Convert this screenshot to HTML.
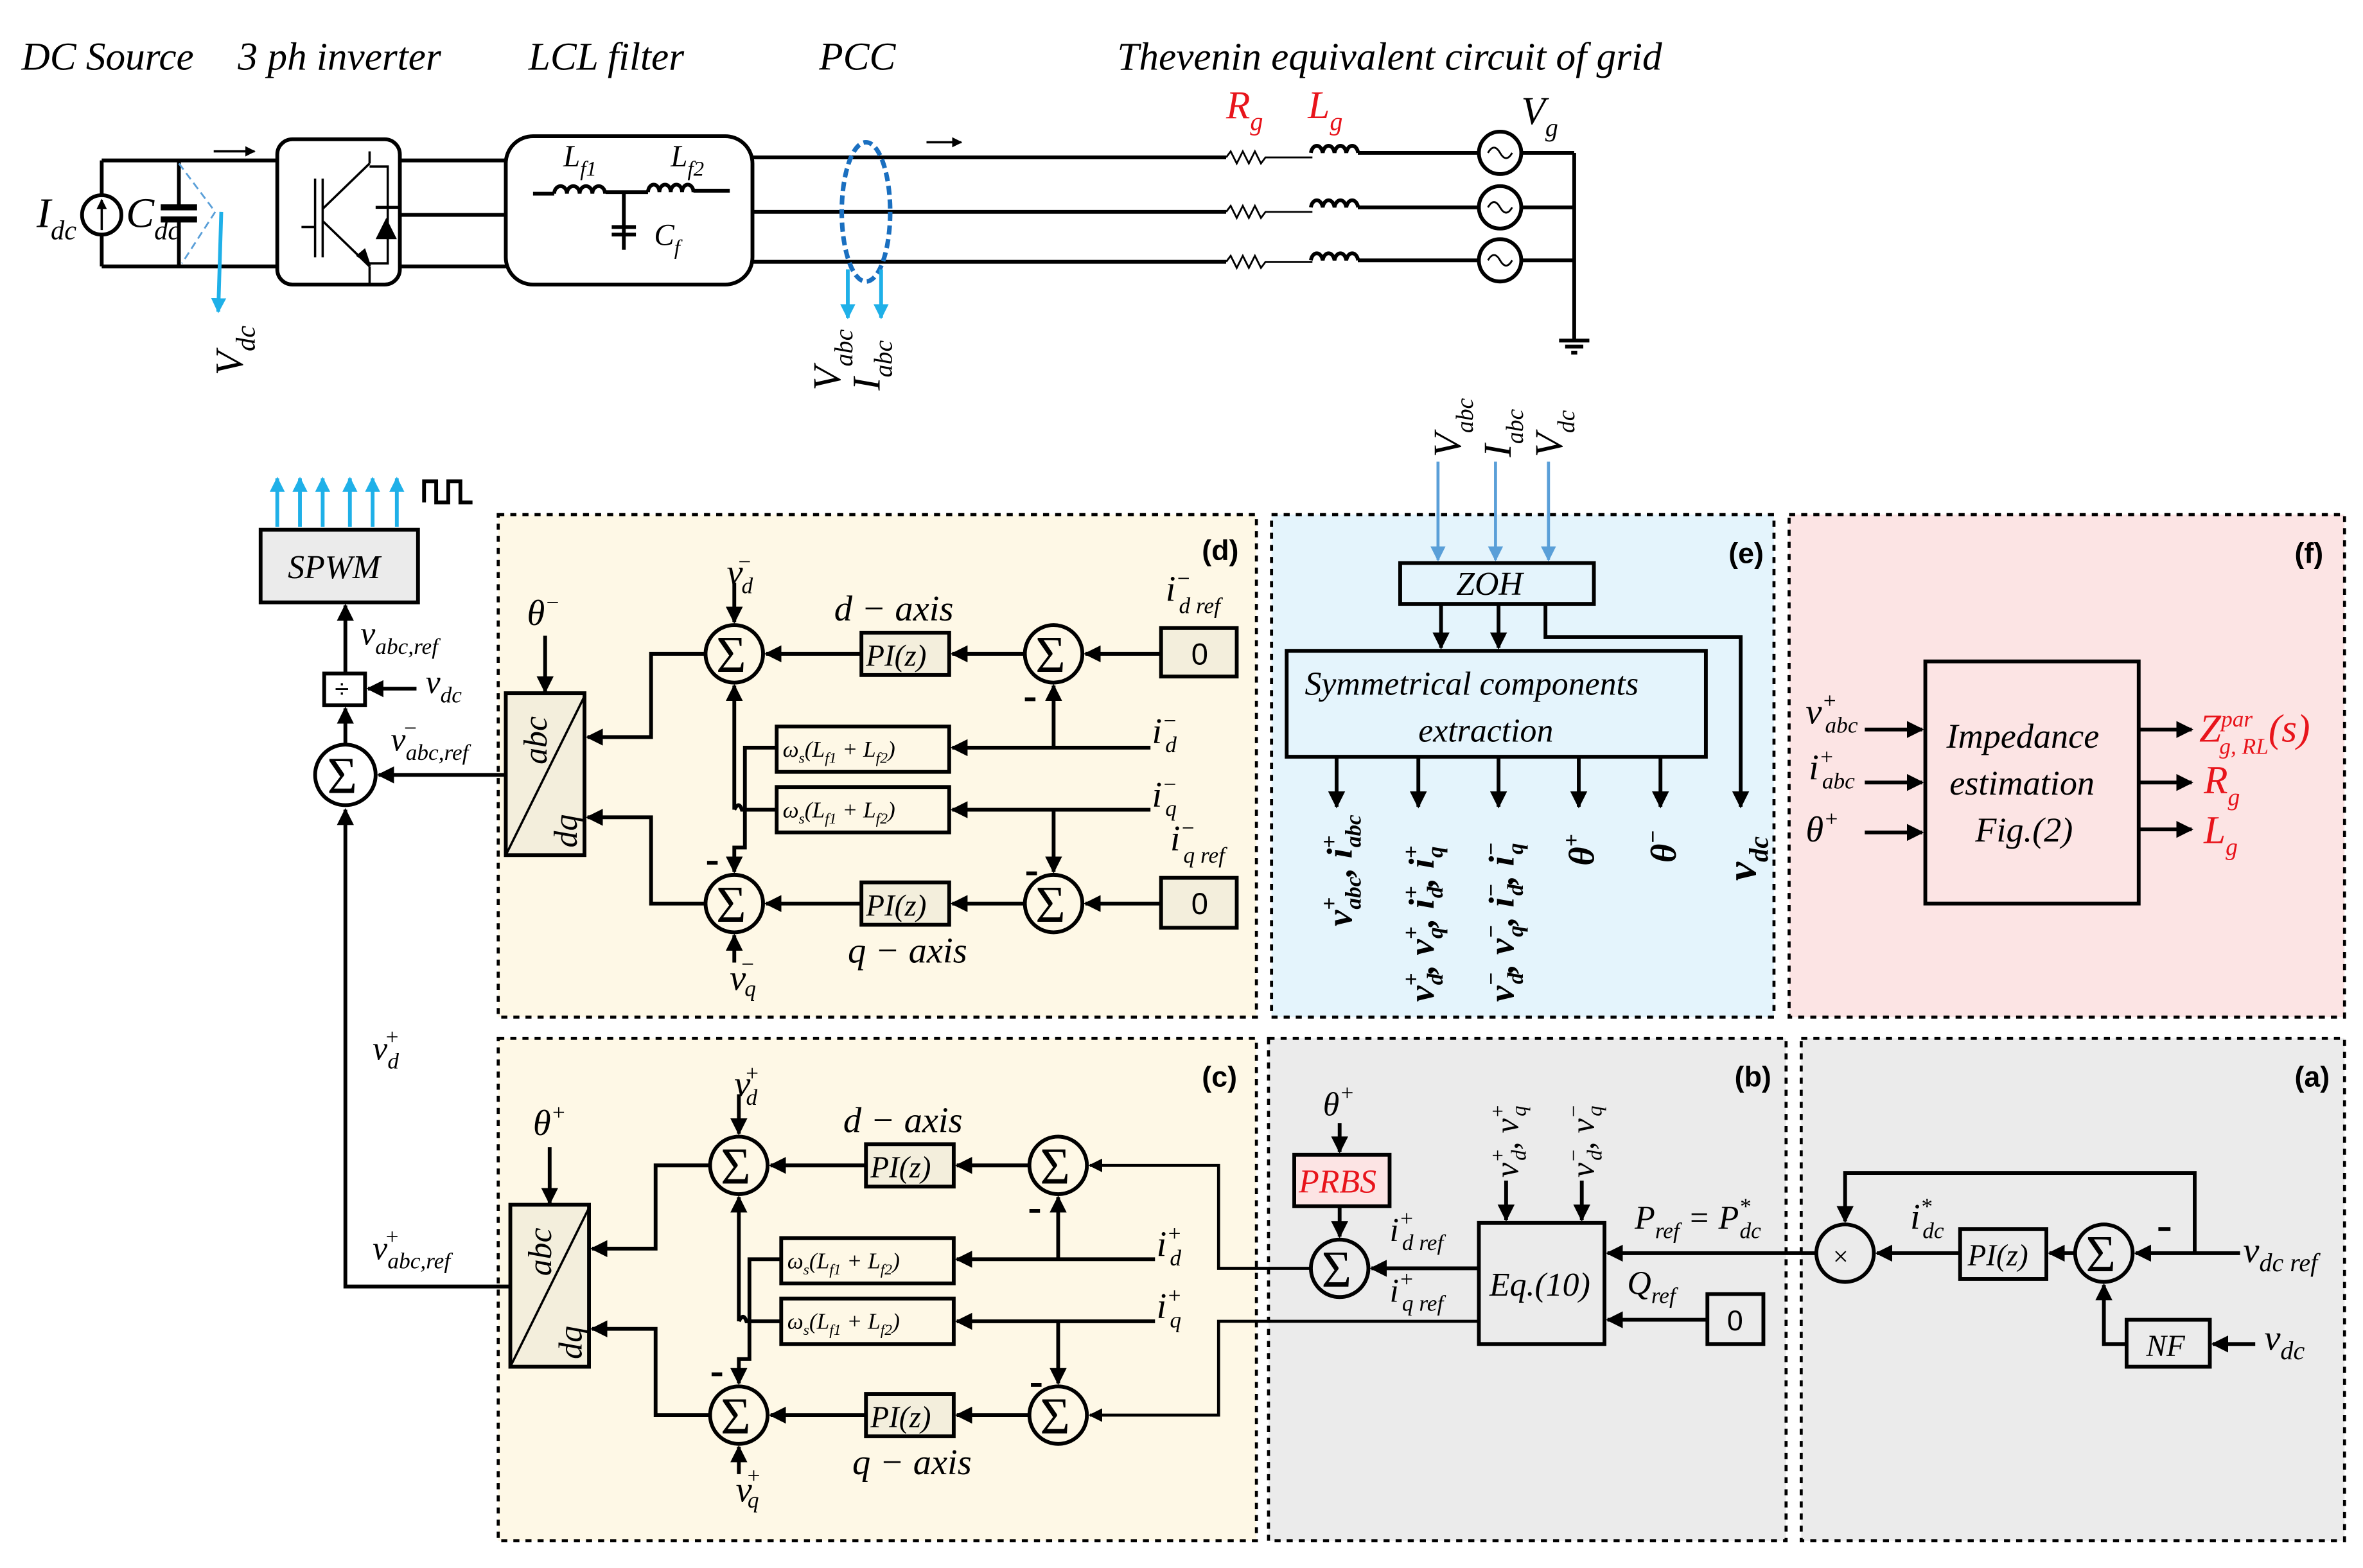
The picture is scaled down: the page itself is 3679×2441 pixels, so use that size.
<!DOCTYPE html>
<html><head><meta charset="utf-8"><style>
html,body{margin:0;padding:0;background:#fff;}
svg{display:block;}
text{font-family:"Liberation Serif",serif;font-style:italic;fill:#000;}
.n{font-family:"Liberation Sans",sans-serif;font-style:normal;font-weight:bold;}
.ar{stroke:#000;stroke-width:2.5;fill:none;marker-end:url(#a);}
.ab{stroke:#1fb0e8;stroke-width:2.5;fill:none;marker-end:url(#bl);}
.ab2{stroke:#5a9fd8;stroke-width:2;fill:none;marker-end:url(#bl2);}
</style></head><body>
<svg width="3679" height="2441" viewBox="0 0 1561 1036" xmlns="http://www.w3.org/2000/svg">
<defs>
<marker id="a" viewBox="0 0 10 10" refX="9" refY="5" markerWidth="4.5" markerHeight="4.5" orient="auto" markerUnits="strokeWidth"><path d="M0,0L10,5L0,10z" fill="#000"/></marker>
<marker id="bl" viewBox="0 0 10 10" refX="9" refY="5" markerWidth="4" markerHeight="5" orient="auto"><path d="M0,0L10,5L0,10z" fill="#1fb0e8"/></marker>
<marker id="bl2" viewBox="0 0 10 10" refX="9" refY="5" markerWidth="5" markerHeight="5" orient="auto"><path d="M0,0L10,5L0,10z" fill="#5a9fd8"/></marker>
</defs>

<!-- titles -->
<g font-size="26">
<text x="14" y="46">DC Source</text>
<text x="157" y="46">3 ph inverter</text>
<text x="349" y="46">LCL  filter</text>
<text x="541" y="46">PCC</text>
<text x="738" y="46">Thevenin equivalent circuit of  grid</text>
</g>

<!-- DC side -->
<g stroke="#000" stroke-width="2.5" fill="none">
<path d="M67,106H183M67,176H183M67,106V129M67,155V176M118,106V137M118,145V176"/>
<circle cx="67" cy="142" r="13"/>
<path d="M106,137H130M106,145H130" stroke-width="4"/>
<rect x="183" y="92" width="81" height="96" rx="10"/>
<path d="M264,106H334M264,142H334M264,176H334"/>
<rect x="334" y="90" width="163" height="98" rx="18"/>
<path d="M497,104H810M497,140H810M497,173H810"/>
</g>
<path d="M141,100H168" stroke="#000" stroke-width="1.5" fill="none" marker-end="url(#a)"/>
<path d="M612,94H635" stroke="#000" stroke-width="1.5" fill="none" marker-end="url(#a)"/>
<path d="M67,152V132" stroke="#000" stroke-width="1.5" marker-end="url(#a)"/>
<path d="M118,108L142,140L120,174" stroke="#5a9fd8" stroke-width="1.2" stroke-dasharray="5,3" fill="none"/>
<path d="M146,140L144,206" class="ab"/>
<!-- IGBT -->
<g stroke="#000" stroke-width="1.5" fill="none">
<path d="M208,118V170M213,118V170M199,150H208M213,138L244,108M213,146L244,176M244,100V108M244,176V188M244,110H256V174H244"/>
</g>
<path d="M245,176L235,169L241,164z" fill="#000"/>
<path d="M249,138H263L256,152z" fill="#000" transform="translate(-1,6) rotate(180 256 145)"/>
<path d="M248,137H264" stroke="#000" stroke-width="2"/>
<!-- LCL internals -->
<g stroke="#000" stroke-width="2.5" fill="none">
<path d="M352,128H366M400,127H428M458,126H482M412,127V165M404,150H420M404,155H420"/>
<path d="M366,128a4.2,5 0 0 1 8.4,0a4.2,5 0 0 1 8.4,0a4.2,5 0 0 1 8.4,0a4.2,5 0 0 1 8.4,0"/>
<path d="M428,127a3.75,5 0 0 1 7.5,0a3.75,5 0 0 1 7.5,0a3.75,5 0 0 1 7.5,0a3.75,5 0 0 1 7.5,0"/>
</g>
<text x="372" y="110" font-size="20">L<tspan font-size="14" dy="6">f1</tspan></text>
<text x="443" y="110" font-size="20">L<tspan font-size="14" dy="6">f2</tspan></text>
<text x="432" y="162" font-size="20">C<tspan font-size="14" dy="6">f</tspan></text>
<text x="24" y="150" font-size="28">I<tspan font-size="18" dy="8">dc</tspan></text>
<text x="83" y="150" font-size="28">C<tspan font-size="18" dy="8">dc</tspan></text>
<text transform="translate(160,248) rotate(-90)" font-size="26">V<tspan font-size="18" dy="8">dc</tspan></text>

<!-- PCC -->
<ellipse cx="572" cy="140" rx="16" ry="46" fill="none" stroke="#1a6fc0" stroke-width="3" stroke-dasharray="6,3"/>
<path d="M560,178V210" class="ab"/><path d="M582,178V210" class="ab"/>
<text transform="translate(555,258) rotate(-90)" font-size="26">V<tspan font-size="17" dy="8">abc</tspan></text>
<text transform="translate(581,258) rotate(-90)" font-size="26">I<tspan font-size="17" dy="8">abc</tspan></text>

<!-- grid -->
<g stroke="#000" stroke-width="2.5" fill="none">
<path d="M897,101H977M897,137H977M897,172H977M1005,101H1040M1005,137H1040M1005,172H1040M1040,101V225M1030,225H1050M1034,229H1046M1038,233H1042" />
<circle cx="991" cy="101" r="14"/><circle cx="991" cy="137" r="14"/><circle cx="991" cy="172" r="14"/>
</g>
<g stroke="#000" stroke-width="1.2" fill="none">
<path d="M810,104l3,-4l4,8l4,-8l4,8l4,-8l4,8l3,-4h31"/>
<path d="M810,140l3,-4l4,8l4,-8l4,8l4,-8l4,8l3,-4h31"/>
<path d="M810,173l3,-4l4,8l4,-8l4,8l4,-8l4,8l3,-4h31"/>
<path d="M983,101q4,-7 8,0t8,0M983,137q4,-7 8,0t8,0M983,172q4,-7 8,0t8,0"/>
</g>
<g stroke="#000" stroke-width="2.5" fill="none">
<path d="M866,101a4,6 0 0 1 7.8,0a4,6 0 0 1 7.8,0a4,6 0 0 1 7.8,0a4,6 0 0 1 7.8,0"/>
<path d="M866,137a4,6 0 0 1 7.8,0a4,6 0 0 1 7.8,0a4,6 0 0 1 7.8,0a4,6 0 0 1 7.8,0"/>
<path d="M866,172a4,6 0 0 1 7.8,0a4,6 0 0 1 7.8,0a4,6 0 0 1 7.8,0a4,6 0 0 1 7.8,0"/>
</g>
<text x="810" y="78" font-size="26" style="fill:#e8141b">R<tspan font-size="17" dy="8">g</tspan></text>
<text x="864" y="78" font-size="26" style="fill:#e8141b">L<tspan font-size="17" dy="8">g</tspan></text>
<text x="1005" y="82" font-size="26">V<tspan font-size="17" dy="8">g</tspan></text>

<!-- panels -->
<g stroke="#000" stroke-width="2" stroke-dasharray="4,4">
<rect x="329" y="340" width="501" height="332" fill="#fef8e6"/>
<rect x="840" y="340" width="332" height="332" fill="#e4f4fc"/>
<rect x="1182" y="340" width="367" height="332" fill="#fce4e4"/>
<rect x="329" y="686" width="501" height="332" fill="#fef8e6"/>
<rect x="838" y="686" width="342" height="332" fill="#ebebeb"/>
<rect x="1190" y="686" width="359" height="332" fill="#ebebeb"/>
</g>
<g font-size="19">
<text class="n" x="794" y="370">(d)</text>
<text class="n" x="1142" y="372">(e)</text>
<text class="n" x="1516" y="372">(f)</text>
<text class="n" x="794" y="718">(c)</text>
<text class="n" x="1146" y="718">(b)</text>
<text class="n" x="1516" y="718">(a)</text>
</g>

<!-- control structure (d) -->
<g id="ctl">
<rect x="334" y="458" width="52" height="107" fill="#f3eedc" stroke="#000" stroke-width="2.5"/>
<path d="M386,460L334,565" stroke="#000" stroke-width="1.5"/>
<text transform="translate(361,505) rotate(-90)" font-size="22">abc</text>
<text transform="translate(381,560) rotate(-90)" font-size="22">dq</text>
<g stroke="#000" stroke-width="2.5" fill="none">
<circle cx="485" cy="432" r="19" fill="#fef8e6"/><circle cx="485" cy="597" r="19" fill="#fef8e6"/>
<circle cx="696" cy="432" r="19" fill="#fef8e6"/><circle cx="696" cy="597" r="19" fill="#fef8e6"/>
<rect x="569" y="418" width="58" height="28" fill="#f3eedc"/><rect x="569" y="583" width="58" height="28" fill="#f3eedc"/>
<rect x="513" y="480" width="114" height="30" fill="#fef8e6"/><rect x="513" y="520" width="114" height="30" fill="#fef8e6"/>
</g>
<path class="ar" d="M360,420V457"/>
<path class="ar" d="M466,432H430V487H388"/>
<path class="ar" d="M466,597H430V540H388"/>
<path class="ar" d="M569,432H506"/>
<path class="ar" d="M677,432H629"/>
<path class="ar" d="M677,597H629"/>
<path class="ar" d="M569,597H506"/>
<path class="ar" d="M760,494H629"/>
<path class="ar" d="M696,494V453"/>
<path class="ar" d="M760,535H629"/>
<path class="ar" d="M696,535V576"/>
<path class="ar" d="M485,385V411"/>
<path class="ar" d="M485,636V618"/>
<path class="ar" d="M485,535V453"/>
<path d="M513,535H490q-2,-6 -5,0" stroke="#000" stroke-width="2.5" fill="none"/>
<path class="ar" d="M513,494H492V560H485V576"/>
<path d="M677,462h7M678,577h7M467,570h7" stroke="#000" stroke-width="2.5"/>
<g font-size="34"><text x="473" y="444" style="font-style:normal">Σ</text><text x="473" y="609" style="font-style:normal">Σ</text><text x="684" y="444" style="font-style:normal">Σ</text><text x="684" y="609" style="font-style:normal">Σ</text></g>
<g font-size="20"><text x="572" y="440">PI(z)</text><text x="572" y="605">PI(z)</text></g>
<g font-size="15"><text x="517" y="500">ω<tspan font-size="10" dy="4">s</tspan><tspan dy="-4">(L</tspan><tspan font-size="10" dy="4">f1</tspan><tspan dy="-4"> + L</tspan><tspan font-size="10" dy="4">f2</tspan><tspan dy="-4">)</tspan></text>
<text x="517" y="540">ω<tspan font-size="10" dy="4">s</tspan><tspan dy="-4">(L</tspan><tspan font-size="10" dy="4">f1</tspan><tspan dy="-4"> + L</tspan><tspan font-size="10" dy="4">f2</tspan><tspan dy="-4">)</tspan></text></g>
</g>
<use href="#ctl" transform="translate(3,338)"/>

<!-- (d) labels and extras -->
<g stroke="#000" stroke-width="2.5" fill="none">
<rect x="767" y="415" width="50" height="32" fill="#f3eedc"/><rect x="767" y="580" width="50" height="33" fill="#f3eedc"/>
</g>
<path class="ar" d="M767,432H717"/><path class="ar" d="M767,597H717"/>
<text x="787" y="439" font-size="20" style="font-family:'Liberation Sans',sans-serif;font-style:normal">0</text>
<text x="787" y="604" font-size="20" style="font-family:'Liberation Sans',sans-serif;font-style:normal">0</text>
<g font-size="24">
<text x="348" y="413">θ<tspan font-size="15" dy="-10">−</tspan></text>
<text x="480" y="386">v<tspan font-size="15" dy="-10" dx="-4">−</tspan><tspan font-size="15" dy="16" dx="-7">d</tspan></text>
<text x="482" y="654">v<tspan font-size="15" dy="-12" dx="-4">−</tspan><tspan font-size="15" dy="16" dx="-7">q</tspan></text>
<text x="551" y="410">d − axis</text>
<text x="560" y="636">q − axis</text>
<text x="770" y="397">i<tspan font-size="15" dy="-10">−</tspan><tspan font-size="15" dy="18" dx="-8">d ref</tspan></text>
<text x="773" y="562">i<tspan font-size="15" dy="-10">−</tspan><tspan font-size="15" dy="18" dx="-8">q ref</tspan></text>
<text x="761" y="491">i<tspan font-size="15" dy="-10">−</tspan><tspan font-size="15" dy="16" dx="-8">d</tspan></text>
<text x="761" y="533">i<tspan font-size="15" dy="-10">−</tspan><tspan font-size="15" dy="16" dx="-8">q</tspan></text>
</g>

<!-- (c) labels -->
<g font-size="24">
<text x="352" y="750">θ<tspan font-size="15" dy="-10">+</tspan></text>
<text x="485" y="724">v<tspan font-size="15" dy="-10" dx="-4">+</tspan><tspan font-size="15" dy="16" dx="-9">d</tspan></text>
<text x="486" y="992">v<tspan font-size="15" dy="-12" dx="-4">+</tspan><tspan font-size="15" dy="16" dx="-9">q</tspan></text>
<text x="557" y="748">d − axis</text>
<text x="563" y="974">q − axis</text>
<text x="764" y="830">i<tspan font-size="15" dy="-10">+</tspan><tspan font-size="15" dy="16" dx="-8">d</tspan></text>
<text x="764" y="871">i<tspan font-size="15" dy="-10">+</tspan><tspan font-size="15" dy="16" dx="-8">q</tspan></text>
</g>
<path d="M866,838H805V770H720" class="ar" style="stroke-width:2"/>
<path d="M977,873H805V935H720" class="ar" style="stroke-width:2"/>

<!-- left column -->
<rect x="172" y="350" width="104" height="48" fill="#ebebeb" stroke="#000" stroke-width="2.5"/>
<text x="190" y="382" font-size="22">SPWM</text>
<path class="ab" d="M183,348V316"/><path class="ab" d="M198,348V316"/><path class="ab" d="M213,348V316"/>
<path class="ab" d="M231,348V316"/><path class="ab" d="M246,348V316"/><path class="ab" d="M262,348V316"/>
<path d="M280,332V318H288V332H296V318H304V332H312" stroke="#000" stroke-width="2.5" fill="none"/>
<g stroke="#000" stroke-width="2.5" fill="none">
<rect x="214" y="445" width="27" height="21" fill="#fff"/>
<circle cx="228" cy="512" r="20"/>
</g>
<path class="ar" d="M228,445V400"/>
<path class="ar" d="M228,491V468"/>
<path class="ar" d="M275,455H243"/>
<path class="ar" d="M334,512H250"/>
<path class="ar" d="M337,850H228V535"/>
<text x="221" y="461" font-size="17" style="font-family:'Liberation Sans',sans-serif;font-style:normal">÷</text>
<text x="216" y="524" font-size="34" style="font-style:normal">Σ</text>
<g font-size="22">
<text x="238" y="426">v<tspan font-size="15" dy="6">abc,ref</tspan></text>
<text x="281" y="458">v<tspan font-size="15" dy="6">dc</tspan></text>
<text x="258" y="496">v<tspan font-size="15" dy="-10" dx="-2">−</tspan><tspan font-size="15" dy="16" dx="-8">abc,ref</tspan></text>
<text x="246" y="700">v<tspan font-size="15" dy="-10" dx="-2">+</tspan><tspan font-size="15" dy="16" dx="-8">d</tspan></text>
<text x="246" y="832">v<tspan font-size="15" dy="-10" dx="-2">+</tspan><tspan font-size="15" dy="16" dx="-8">abc,ref</tspan></text>
</g>

<!-- (e) -->
<path class="ab2" d="M950,305V370"/><path class="ab2" d="M988,305V370"/><path class="ab2" d="M1023,305V370"/>
<text transform="translate(965,302) rotate(-90)" font-size="26">V<tspan font-size="16" dy="8">abc</tspan></text>
<text transform="translate(998,302) rotate(-90)" font-size="26">I<tspan font-size="16" dy="8">abc</tspan></text>
<text transform="translate(1032,302) rotate(-90)" font-size="26">V<tspan font-size="16" dy="8">dc</tspan></text>
<g stroke="#000" stroke-width="2.5" fill="none">
<rect x="925" y="372" width="128" height="27"/>
<rect x="850" y="430" width="277" height="70"/>
</g>
<path class="ar" d="M952,400V428"/><path class="ar" d="M990,400V428"/>
<path class="ar" d="M1021,400V421H1150V533"/>
<path class="ar" d="M883,501V533"/><path class="ar" d="M937,501V533"/><path class="ar" d="M990,501V533"/>
<path class="ar" d="M1043,501V533"/><path class="ar" d="M1097,501V533"/>
<text x="962" y="393" font-size="22">ZOH</text>
<text x="862" y="459" font-size="22">Symmetrical components</text>
<text x="937" y="490" font-size="22">extraction</text>
<g font-size="24" font-weight="bold">
<text transform="translate(893,612) rotate(-90)">v<tspan font-size="15" dy="-10">+</tspan><tspan font-size="15" dy="16" dx="-8">abc</tspan><tspan dy="-6">, i</tspan><tspan font-size="15" dy="-10">+</tspan><tspan font-size="15" dy="16" dx="-8">abc</tspan></text>
<text transform="translate(947,662) rotate(-90)">v<tspan font-size="15" dy="-10">+</tspan><tspan font-size="15" dy="16" dx="-8">d</tspan><tspan dy="-6">, v</tspan><tspan font-size="15" dy="-10">+</tspan><tspan font-size="15" dy="16" dx="-8">q</tspan><tspan dy="-6">, i</tspan><tspan font-size="15" dy="-10">+</tspan><tspan font-size="15" dy="16" dx="-8">d</tspan><tspan dy="-6">, i</tspan><tspan font-size="15" dy="-10">+</tspan><tspan font-size="15" dy="16" dx="-8">q</tspan></text>
<text transform="translate(1000,662) rotate(-90)">v<tspan font-size="15" dy="-10">−</tspan><tspan font-size="15" dy="16" dx="-8">d</tspan><tspan dy="-6">, v</tspan><tspan font-size="15" dy="-10">−</tspan><tspan font-size="15" dy="16" dx="-8">q</tspan><tspan dy="-6">, i</tspan><tspan font-size="15" dy="-10">−</tspan><tspan font-size="15" dy="16" dx="-8">d</tspan><tspan dy="-6">, i</tspan><tspan font-size="15" dy="-10">−</tspan><tspan font-size="15" dy="16" dx="-8">q</tspan></text>
<text transform="translate(1053,572) rotate(-90)">θ<tspan font-size="15" dy="-10">+</tspan></text>
<text transform="translate(1107,570) rotate(-90)">θ<tspan font-size="15" dy="-10">−</tspan></text>
<text transform="translate(1160,582) rotate(-90)" font-size="28">v<tspan font-size="18" dy="8">dc</tspan></text>
</g>

<!-- (f) -->
<rect x="1272" y="437" width="141" height="160" stroke="#000" stroke-width="2.5" fill="none"/>
<path class="ar" d="M1232,482H1270"/><path class="ar" d="M1232,517H1270"/><path class="ar" d="M1232,550H1270"/>
<path class="ar" d="M1413,482H1448"/><path class="ar" d="M1413,517H1448"/><path class="ar" d="M1413,548H1448"/>
<text x="1286" y="494" font-size="23">Impedance</text>
<text x="1288" y="525" font-size="23">estimation</text>
<text x="1305" y="556" font-size="23">Fig.(2)</text>
<g font-size="24">
<text x="1193" y="478">v<tspan font-size="15" dy="-10">+</tspan><tspan font-size="15" dy="16" dx="-8">abc</tspan></text>
<text x="1195" y="515">i<tspan font-size="15" dy="-10">+</tspan><tspan font-size="15" dy="16" dx="-8">abc</tspan></text>
<text x="1193" y="556">θ<tspan font-size="15" dy="-10">+</tspan></text>
</g>
<g font-size="26">
<text x="1453" y="490" style="fill:#e8141b">Z<tspan font-size="15" dy="-10">par</tspan><tspan font-size="15" dy="18" dx="-22">g, RL</tspan><tspan dy="-8">(s)</tspan></text>
<text x="1456" y="524" style="fill:#e8141b">R<tspan font-size="16" dy="8">g</tspan></text>
<text x="1456" y="557" style="fill:#e8141b">L<tspan font-size="16" dy="8">g</tspan></text>
</g>

<!-- (b) -->
<g stroke="#000" stroke-width="2.5" fill="none">
<rect x="855" y="763" width="63" height="34" fill="#fce4e4"/>
<circle cx="885" cy="838" r="19"/>
<rect x="977" y="808" width="83" height="80"/>
<rect x="1128" y="855" width="37" height="33"/>
</g>
<path class="ar" d="M885,742V761"/><path class="ar" d="M885,797V817"/>
<path class="ar" d="M995,780V806"/><path class="ar" d="M1045,780V806"/>
<path class="ar" d="M1200,828H1062"/><path class="ar" d="M1128,872H1062"/>
<path class="ar" d="M977,838H906"/>
<text x="858" y="788" font-size="22" style="fill:#e8141b">PRBS</text>
<text x="873" y="850" font-size="34" style="font-style:normal">Σ</text>
<text x="984" y="856" font-size="22">Eq.(10)</text>
<text x="1141" y="879" font-size="19" style="font-family:'Liberation Sans',sans-serif;font-style:normal">0</text>
<g font-size="22">
<text x="874" y="737">θ<tspan font-size="15" dy="-10">+</tspan></text>
<text x="918" y="820">i<tspan font-size="15" dy="-10">+</tspan><tspan font-size="15" dy="16" dx="-8">d ref</tspan></text>
<text x="918" y="860">i<tspan font-size="15" dy="-10">+</tspan><tspan font-size="15" dy="16" dx="-8">q ref</tspan></text>
<text transform="translate(1003,778) rotate(-90)">v<tspan font-size="14" dy="-9">+</tspan><tspan font-size="14" dy="14" dx="-8">d</tspan><tspan dy="-5">, v</tspan><tspan font-size="14" dy="-9">+</tspan><tspan font-size="14" dy="14" dx="-8">q</tspan></text>
<text transform="translate(1053,778) rotate(-90)">v<tspan font-size="14" dy="-9">−</tspan><tspan font-size="14" dy="14" dx="-8">d</tspan><tspan dy="-5">, v</tspan><tspan font-size="14" dy="-9">−</tspan><tspan font-size="14" dy="14" dx="-8">q</tspan></text>
<text x="1080" y="812">P<tspan font-size="15" dy="6">ref</tspan><tspan dy="-6"> = P</tspan><tspan font-size="15" dy="-10">*</tspan><tspan font-size="15" dy="16" dx="-7">dc</tspan></text>
<text x="1075" y="855">Q<tspan font-size="15" dy="6">ref</tspan></text>
</g>

<!-- (a) -->
<g stroke="#000" stroke-width="2.5" fill="none">
<circle cx="1219" cy="828" r="19"/>
<rect x="1295" y="812" width="57" height="33"/>
<circle cx="1390" cy="828" r="19"/>
<rect x="1405" y="872" width="55" height="31"/>
<path d="M1426,812h8"/>
</g>
<path class="ar" d="M1480,828H1411"/>
<path class="ar" d="M1450,828V775H1219V807"/>
<path class="ar" d="M1405,888H1390V849"/>
<path class="ar" d="M1490,888H1462"/>
<path class="ar" d="M1371,828H1354"/>
<path class="ar" d="M1295,828H1240"/>
<text x="1211" y="836" font-size="18" style="font-style:normal">×</text>
<text x="1300" y="836" font-size="20">PI(z)</text>
<text x="1378" y="840" font-size="34" style="font-style:normal">Σ</text>
<text x="1418" y="896" font-size="20">NF</text>
<g font-size="24">
<text x="1262" y="812">i<tspan font-size="15" dy="-10">*</tspan><tspan font-size="15" dy="16" dx="-6">dc</tspan></text>
<text x="1482" y="834">v<tspan font-size="17" dy="6">dc ref</tspan></text>
<text x="1496" y="892">v<tspan font-size="17" dy="6">dc</tspan></text>
</g>
</svg>
</body></html>
